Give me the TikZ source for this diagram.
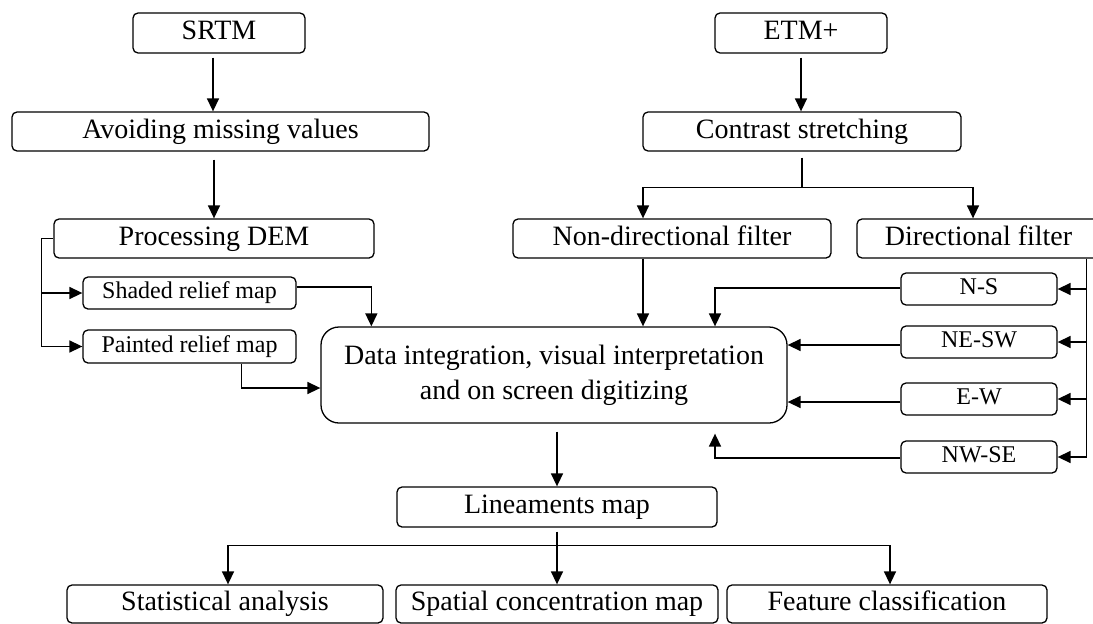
\documentclass[tikz,border=0pt]{standalone}
\usepackage{fontspec}
\setmainfont{Liberation Serif}
\usetikzlibrary{arrows.meta}
\begin{document}
\begin{tikzpicture}[x=1pt,y=-1pt,
  box/.style={draw, line width=1.3pt, rounded corners=5pt, inner sep=0pt,
    align=center, text height=19pt, text depth=6pt,
    font=\fontsize{28}{35}\selectfont},
  smallbox/.style={box, text height=16pt, text depth=5pt,
    font=\fontsize{24}{28}\selectfont},
  bigbox/.style={draw, line width=1.3pt, rounded corners=18pt, inner sep=0pt,
    align=center, font=\fontsize{28}{35}\selectfont},
  link/.style={line width=1.5pt},
  arr/.style={link, -{Triangle[length=13pt,width=12pt]}}]
\clip (0,0) rectangle (1093,624);
\fill[white] (0,0) rectangle (1093,624);

% left column: elevation data
\node[box, minimum width=172pt, minimum height=40pt] (srtm) at (219,33) {SRTM};
\node[box, minimum width=417pt, minimum height=39pt] (avoid) at (220.5,131.5) {Avoiding missing values};
\node[box, minimum width=320pt, minimum height=39pt] (dem) at (214,238.5) {Processing DEM};
\node[smallbox, minimum width=213pt, minimum height=32pt] (shaded) at (189.5,293) {Shaded relief map};
\node[smallbox, minimum width=213pt, minimum height=33pt] (painted) at (189.5,346.5) {Painted relief map};

% right column: satellite imagery
\node[box, minimum width=172pt, minimum height=40pt] (etm) at (801,33) {ETM+};
\node[box, minimum width=318pt, minimum height=39pt] (contrast) at (802,131.5) {Contrast stretching};
\node[box, minimum width=318pt, minimum height=39pt] (nondir) at (672,238.5) {Non-directional filter};
\node[box, minimum width=243pt, minimum height=39pt] (dir) at (978.5,238.5) {Directional filter};
\node[smallbox, minimum width=156pt, minimum height=32pt] (ns) at (979,289) {N-S};
\node[smallbox, minimum width=156pt, minimum height=32pt] (nesw) at (979,342) {NE-SW};
\node[smallbox, minimum width=156pt, minimum height=32pt] (ew) at (979,399) {E-W};
\node[smallbox, minimum width=156pt, minimum height=32pt] (nwse) at (979,457) {NW-SE};

% integration and results
\node[bigbox, minimum width=466pt, minimum height=96pt] (data) at (554,375)
  {Data integration, visual interpretation\\and on screen digitizing};
\node[box, minimum width=320pt, minimum height=40pt] (lin) at (557,507) {Lineaments map};
\node[box, minimum width=316pt, minimum height=38pt] (stat) at (225,604) {Statistical analysis};
\node[box, minimum width=322pt, minimum height=38pt] (spat) at (557,604) {Spatial concentration map};
\node[box, minimum width=320pt, minimum height=38pt] (feat) at (887,604) {Feature classification};

% left column connectors
\draw[arr, shorten <=4pt] ([xshift=-6pt]srtm.south) -- ([xshift=-6pt]srtm.south |- avoid.north);
\draw[arr, shorten <=8pt] (avoid.south -| dem.north) -- (dem.north);
\draw[link] (dem.west) -- ++(-12,0) coordinate (tr);
\draw[arr] (tr) |- (painted.west);
\draw[arr] (tr |- shaded.west) -- (shaded.west);
\draw[arr] ([yshift=6pt]shaded.east) -| ([xshift=51pt]data.north west);
\draw[arr] ([xshift=52pt]painted.south) |- ([yshift=-13pt]data.west);

% right column connectors
\draw[arr, shorten <=4pt] (etm.south) -- (etm.south |- contrast.north);
\draw[link, shorten <=6pt] (contrast.south) -- ++(0,36) coordinate (sp);
\draw[arr] (sp) -| ([xshift=-29pt]nondir.north);
\draw[arr] (sp) -| ([xshift=-5.5pt]dir.north);
\draw[arr] ([xshift=-29pt]nondir.south) -- ([xshift=-29pt]nondir.south |- data.north);
\coordinate (rb) at ([xshift=-14pt]dir.south east);
\draw[arr] (rb) |- (nwse.east);
\draw[arr] (rb |- ns.east) -- (ns.east);
\draw[arr] (rb |- nesw.east) -- (nesw.east);
\draw[arr] (rb |- ew.east) -- (ew.east);
\draw[arr] ([yshift=1pt]ns.west) -| ([xshift=161pt]data.north);
\draw[arr] ([yshift=-3pt]nesw.west) -- ([yshift=-3pt]nesw.west -| data.east);
\draw[arr] ([yshift=-3pt]ew.west) -- ([yshift=-3pt]ew.west -| data.east);
\draw[arr] ([yshift=-1pt]nwse.west) -| ([xshift=161pt,yshift=-10pt]data.south);

% results connectors
\draw[arr, shorten <=8pt] (data.south -| lin.north) -- (lin.north);
\draw[link, shorten <=4pt] (lin.south) -- ++(0,18) coordinate (bs);
\draw[arr] (bs) -| ([xshift=3pt]stat.north);
\draw[arr] (bs) -- (spat.north);
\draw[arr] (bs) -| ([xshift=3pt]feat.north);
\end{tikzpicture}
\end{document}
